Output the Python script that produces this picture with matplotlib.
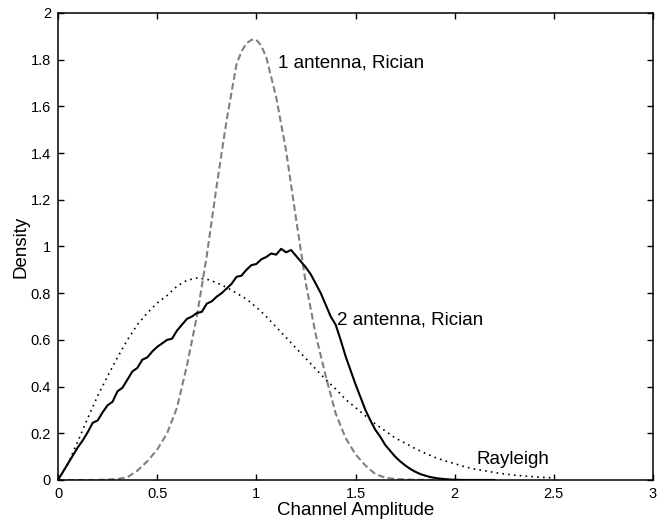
import matplotlib
matplotlib.use("Agg")
import matplotlib.pyplot as plt
import numpy as np

plt.rcParams['font.family'] = ['Liberation Sans', 'DejaVu Sans']

# 2 antenna, Rician (solid, noisy histogram estimate)
x_two = [0.000, 0.025, 0.050, 0.075, 0.100, 0.125, 0.150, 0.175, 0.200, 0.225,
         0.250, 0.275, 0.300, 0.325, 0.350, 0.375, 0.400, 0.425, 0.450, 0.475,
         0.500, 0.525, 0.550, 0.575, 0.600, 0.625, 0.650, 0.675, 0.700, 0.725,
         0.750, 0.775, 0.800, 0.825, 0.850, 0.875, 0.900, 0.925, 0.950, 0.975,
         1.000, 1.025, 1.050, 1.075, 1.100, 1.125, 1.150, 1.175, 1.200, 1.225,
         1.250, 1.275, 1.300, 1.325, 1.350, 1.375, 1.400, 1.425, 1.450, 1.475,
         1.500, 1.525, 1.550, 1.575, 1.600, 1.625, 1.650, 1.675, 1.700, 1.725,
         1.750, 1.775, 1.800, 1.825, 1.850, 1.875, 1.900, 1.925, 1.950, 1.975,
         2.000, 2.050, 2.100, 2.150, 2.200]
y_two = [0.000, 0.035, 0.070, 0.105, 0.140, 0.170, 0.205, 0.245, 0.255, 0.290,
         0.320, 0.335, 0.380, 0.395, 0.430, 0.465, 0.480, 0.515, 0.525, 0.550,
         0.570, 0.585, 0.600, 0.605, 0.640, 0.665, 0.690, 0.700, 0.715, 0.720,
         0.755, 0.765, 0.785, 0.800, 0.820, 0.840, 0.870, 0.875, 0.900, 0.920,
         0.925, 0.945, 0.955, 0.970, 0.965, 0.990, 0.975, 0.985, 0.960, 0.935,
         0.910, 0.880, 0.840, 0.800, 0.750, 0.700, 0.665, 0.600, 0.530, 0.470,
         0.410, 0.355, 0.300, 0.255, 0.215, 0.185, 0.150, 0.125, 0.100, 0.080,
         0.063, 0.048, 0.036, 0.026, 0.019, 0.013, 0.009, 0.006, 0.004, 0.002,
         0.001, 0.000, 0.000, 0.000, 0.000]

# 1 antenna, Rician (dashed)
x_one = [0.00, 0.10, 0.20, 0.25, 0.30, 0.35, 0.40, 0.45, 0.50, 0.55,
         0.60, 0.65, 0.70, 0.75, 0.80, 0.85, 0.90, 0.925, 0.95, 0.975,
         1.00, 1.025, 1.05, 1.10, 1.15, 1.20, 1.25, 1.30, 1.35, 1.40,
         1.45, 1.50, 1.55, 1.60, 1.65, 1.70, 1.80, 2.00, 2.20]
y_one = [0.000, 0.000, 0.000, 0.002, 0.004, 0.012, 0.040, 0.080, 0.130, 0.200,
         0.310, 0.490, 0.700, 0.960, 1.260, 1.540, 1.780, 1.835, 1.870, 1.885,
         1.885, 1.860, 1.810, 1.640, 1.410, 1.120, 0.840, 0.620, 0.445, 0.285,
         0.180, 0.110, 0.062, 0.025, 0.010, 0.004, 0.001, 0.000, 0.000]

# Rayleigh (dotted)
x_ray = [0.00, 0.05, 0.10, 0.15, 0.20, 0.25, 0.30, 0.35, 0.40, 0.45,
         0.50, 0.55, 0.60, 0.65, 0.70, 0.75, 0.80, 0.85, 0.90, 0.95,
         1.00, 1.05, 1.10, 1.15, 1.20, 1.25, 1.30, 1.35, 1.40, 1.45,
         1.50, 1.55, 1.60, 1.65, 1.70, 1.75, 1.80, 1.85, 1.90, 1.95,
         2.00, 2.05, 2.10, 2.15, 2.20, 2.25, 2.30, 2.35, 2.40, 2.45, 2.50]
y_ray = [0.000, 0.070, 0.165, 0.265, 0.360, 0.445, 0.525, 0.600, 0.665, 0.715,
         0.758, 0.790, 0.830, 0.855, 0.865, 0.860, 0.845, 0.825, 0.800, 0.775,
         0.740, 0.700, 0.655, 0.610, 0.565, 0.520, 0.475, 0.430, 0.390, 0.345,
         0.310, 0.275, 0.240, 0.210, 0.180, 0.158, 0.135, 0.115, 0.097, 0.082,
         0.070, 0.057, 0.047, 0.040, 0.032, 0.026, 0.021, 0.017, 0.014, 0.011, 0.009]

xticks = [0, 0.5, 1, 1.5, 2, 2.5, 3]
xticklabels = ['0', '0.5', '1', '1.5', '2', '2.5', '3']
yticks = [0, 0.2, 0.4, 0.6, 0.8, 1.0, 1.2, 1.4, 1.6, 1.8, 2.0]
yticklabels = ['0', '0.2', '0.4', '0.6', '0.8', '1', '1.2', '1.4', '1.6', '1.8', '2']

fig = plt.figure(figsize=(6.63, 5.21), dpi=100)
ax = fig.add_axes([0.0875, 0.0787, 0.8974, 0.8964])

ax.plot(x_one, y_one, color='0.5', linewidth=1.5, linestyle=(0, (3.2, 1.6)))
ax.plot(x_ray, y_ray, color='black', linewidth=1.2, linestyle=(0, (1, 2.5)))
ax.plot(x_two, y_two, color='black', linewidth=1.5)

ax.text(1.109, 1.767, '1 antenna, Rician', fontsize=13.5)
ax.text(1.405, 0.664, '2 antenna, Rician', fontsize=13.5)
ax.text(2.108, 0.069, 'Rayleigh', fontsize=13.5)

ax.set_xlim(0, 3)
ax.set_ylim(0, 2)
ax.set_xticks(xticks)
ax.set_xticklabels(xticklabels)
ax.set_yticks(yticks)
ax.set_yticklabels(yticklabels)
ax.tick_params(direction='in', length=4, width=1, top=True, right=True,
               labelsize=10.5, pad=5)
for s in ax.spines.values():
    s.set_linewidth(1.1)

ax.set_xlabel('Channel Amplitude', fontsize=13.5, labelpad=1)
ax.set_ylabel('Density', fontsize=13.5, labelpad=1)

fig.savefig('out.png', dpi=100)
